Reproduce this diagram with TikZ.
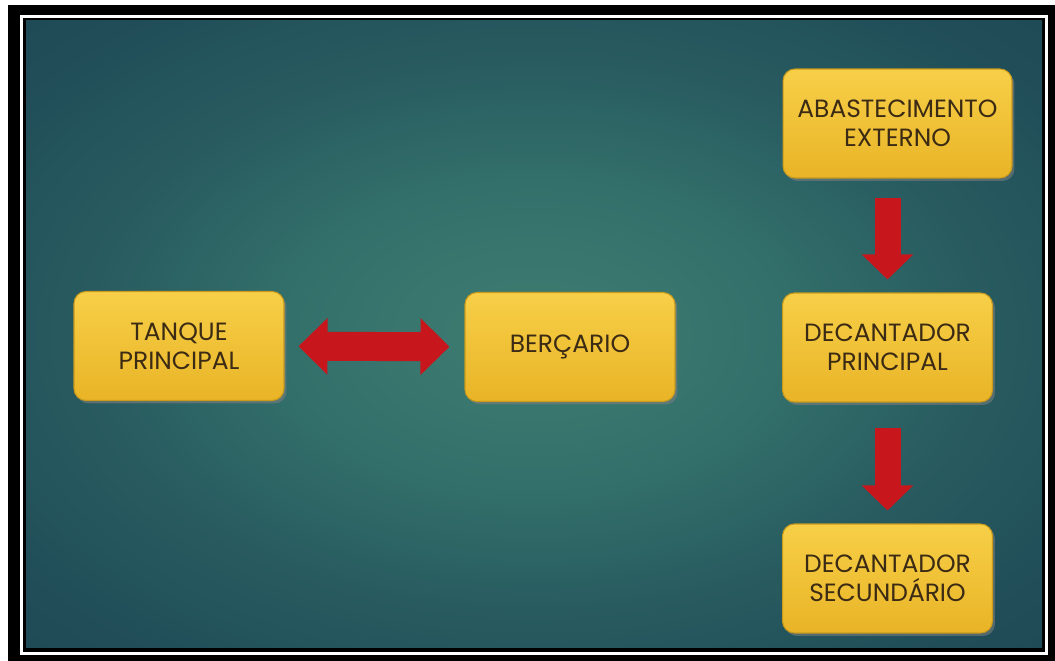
\documentclass[tikz,border=0pt]{standalone}
\usepackage{fontspec}
\usepackage{xcolor}
\usepackage{tikz}
\usetikzlibrary{positioning, shadows, arrows.meta}
\newfontfamily\boxfont{Poppins}
\definecolor{boxtop}{HTML}{F7CF48}
\definecolor{boxbot}{HTML}{E9B426}
\definecolor{boxedge}{HTML}{C99A1C}
\definecolor{boxtext}{HTML}{3B2A14}
\definecolor{arrowred}{HTML}{C8161D}
\definecolor{bginner}{HTML}{3F7D71}
\definecolor{bgmid}{HTML}{33706B}
\definecolor{bgmid2}{HTML}{285B60}
\definecolor{bgouter}{HTML}{204D58}
\definecolor{bgcorner}{HTML}{1B424F}
\pgfdeclareradialshading{fundo}{\pgfpoint{0bp}{0bp}}{color(0bp)=(bginner); color(12bp)=(bgmid); color(22bp)=(bgmid2); color(32bp)=(bgouter); color(50bp)=(bgcorner)}

\begin{document}
\begin{tikzpicture}[
    x=0.02cm, y=-0.02cm,
    etapa/.style={rectangle, rounded corners=0.24cm, draw=boxedge, line width=0.6pt,
        top color=boxtop, bottom color=boxbot, text=boxtext,
        minimum width=4.2cm, minimum height=2.18cm, align=center,
        font=\boxfont\fontsize{14.2}{16.5}\selectfont,
        drop shadow={opacity=0.55, shadow xshift=0.05cm, shadow yshift=-0.06cm}},
    setadupla/.style={draw=arrowred, line width=0.58cm,
        {Triangle[length=0.58cm, width=1.1cm]}-{Triangle[length=0.58cm, width=1.1cm]}},
    setabaixo/.style={draw=arrowred, line width=0.52cm,
        -{Triangle[length=0.5cm, width=1.0cm]}}
]
\useasboundingbox (0,0) rectangle (1055,661);

% moldura
\fill[black] (8,5) rectangle (1055,661);
\fill[white] (20,15) rectangle (1048,655);
\fill[black] (23,18) rectangle (1045,652);
\shade[shading=fundo] (26,21) rectangle (1042,648);

% etapas
\node[etapa] (tanque) at (179,346) {TANQUE\\PRINCIPAL};
\node[etapa] (bercario) at (570,347) {BERÇARIO};
\node[etapa, minimum width=4.58cm] (abast) at (897.5,123.5) {ABASTECIMENTO\\EXTERNO};
\node[etapa] (dprin) at (887.5,347.5) {DECANTADOR\\PRINCIPAL};
\node[etapa, below=2.42cm of dprin] (dsec) {DECANTADOR\\SECUNDÁRIO};

% setas
\draw[setadupla, shorten <=0.28cm, shorten >=0.3cm] (tanque) -- (bercario);
\draw[setabaixo, shorten <=0.38cm, shorten >=0.26cm] (dprin.north |- abast.south) -- (dprin.north);
\draw[setabaixo, shorten <=0.5cm, shorten >=0.26cm] (dprin.south) -- (dsec.north);

\end{tikzpicture}
\end{document}
